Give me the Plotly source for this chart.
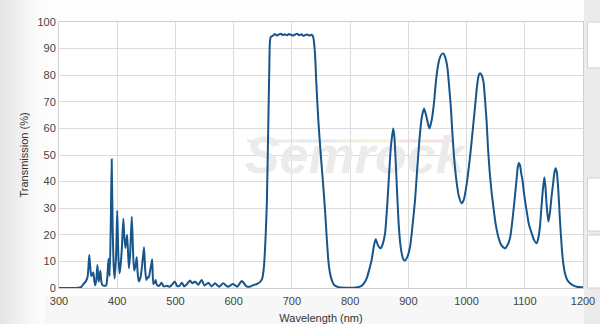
import plotly.graph_objects as go

# Wavelength (nm) and transmission (%)
wavelength = [300, 330, 338, 342, 346, 349, 352, 354, 355.5, 357, 359, 360.5, 362, 364, 366, 368, 369.5,
              371, 373, 375, 378, 381, 383, 385, 387, 389, 390.5, 392, 394, 395.6, 398, 400, 402, 404,
              406, 408, 410.5, 412, 414, 417, 420, 422, 425, 427, 429, 431, 433.5, 435, 437, 440, 443,
              446, 448, 450, 452, 454, 457, 460, 462, 464, 466, 468, 472, 476, 480, 485, 490, 494, 499,
              503, 507, 511, 515, 520, 525, 529, 534, 539, 545, 550, 556.5, 562, 568, 575, 582, 590,
              599, 606, 614, 622, 628, 634, 640, 645, 649, 652, 655, 657, 659.6, 661, 662.4, 664,
              667, 670.5, 674, 677.5, 681, 684.5, 688, 691.5, 695, 698.5, 702, 705.5, 709, 712.5, 716,
              719.5, 723, 726.5, 730, 733, 735, 737, 739.7, 742, 745.4, 750, 754, 757, 759.8, 762,
              763.8, 766, 769.5, 773, 780, 790, 800, 810, 817, 823, 828.5, 833, 837, 841, 844, 848,
              852.5, 856, 860, 864, 867, 870, 874, 876, 878, 880.5, 883, 886, 888.6, 891, 894, 898,
              903, 907, 911.5, 915, 919, 923, 927, 931, 936, 940, 944, 948, 953, 956, 960, 963, 967,
              970, 973, 976, 980, 984, 987, 991.7, 995, 998.6, 1002, 1006, 1010, 1014.5, 1018, 1021,
              1023, 1026, 1029, 1032, 1034.6, 1037, 1040, 1043, 1046, 1050, 1054.5, 1060, 1066, 1070,
              1074.6, 1078, 1081, 1083, 1086, 1088, 1090, 1092, 1094, 1096, 1099, 1103, 1107, 1112,
              1116, 1120.5, 1123, 1126, 1128.5, 1131, 1133.6, 1135.5, 1137.7, 1140.5, 1143, 1146, 1149,
              1151, 1153, 1155, 1157.6, 1160, 1163.4, 1166, 1169, 1173, 1177.7, 1183, 1189, 1200]

transmission = [0, 0, 0.3, 1.5, 2.5, 4, 12.4, 7, 4.5, 5, 5.8, 3, 1, 3, 8.6, 2.4, 4,
                6.5, 2, 1, 0.8, 1, 4, 11, 4.5, 25, 48.4, 25, 8, 3.6, 12, 29, 12, 5.5,
                9, 15, 26, 20, 15, 20, 7.4, 12, 26.8, 15, 6.6, 8, 11.6, 6, 2.5, 4, 9,
                15.3, 7, 3, 4, 4, 7, 10.8, 1.5, 2, 3, 1.2, 0.8, 2.0, 0.6, 0.8, 0.5, 1.2, 2.4,
                0.7, 0.8, 2.0, 0.6, 1.5, 2.8, 1.8, 2.4, 1.2, 3.0, 0.9, 2.0, 0.6, 1.75, 0.5, 1.75, 0.5,
                1.5, 0.5, 2.6, 0.6, 0.5, 1.1, 1.5, 2.2, 3.5, 8, 20, 32, 63, 80, 93, 94.5,
                94.8, 95.5, 94.9, 95.3, 95.6, 95.1, 95.4, 95.0, 95.5, 95.2, 94.9, 95.3, 95.6, 95.0, 95.4,
                94.8, 95.1, 95.3, 94.9, 95.2, 95.0, 94, 88, 77, 63, 49, 38, 29, 19, 12,
                8, 5, 2.4, 1, 0.3, 0.1, 0.1, 0.2, 0.5, 1.5, 3.6, 7, 10.5, 16, 18.3, 16,
                14.9, 16.5, 20.5, 32, 43, 53, 60, 57, 49, 37, 25.6, 17, 13, 11, 10.3, 11.5,
                15.5, 23, 33, 44, 55.6, 64, 67.5, 64.5, 60, 63, 69.4, 79, 85.7, 87.5, 88.2, 87, 83,
                76, 68, 57, 45.6, 38, 34.3, 31.8, 33, 36.8, 42, 49.4, 58, 68, 76, 80,
                80.7, 80, 77.6, 70, 62, 52, 43, 36, 30.6, 24, 19.3, 16, 14.9, 16,
                18.7, 24, 30, 34.3, 41, 45.5, 47, 46, 43, 40.6, 35, 29.3, 24, 20.5,
                18, 16.8, 18.5, 23, 30, 36.8, 41.6, 38, 30.6, 25, 28, 34.3, 40,
                43.5, 45, 43.5, 36.8, 27, 15.5, 9.5, 5.5, 3, 1.8, 1, 0.5, 0.3]

x_ticks = [300, 400, 500, 600, 700, 800, 900, 1000, 1100, 1200]
y_ticks = [0, 10, 20, 30, 40, 50, 60, 70, 80, 90, 100]

W, H = 600, 324
L, R, T, B = 59, 17, 22, 36
PW, PH = W - L - R, H - T - B


def px(xp):
    return (xp - L) / PW


def py(yp):
    return (H - B - yp) / PH


shapes = []
# left-edge background gradient
grad = ["#e6e6e6", "#e9e9e9", "#ececec", "#efefef", "#f2f2f2", "#f5f5f5", "#f8f8f8", "#fafafa", "#fcfcfc"]
for i, c in enumerate(grad):
    shapes.append(dict(type="rect", xref="paper", yref="paper", x0=px(i * 5), x1=px(i * 5 + 5),
                       y0=py(H), y1=py(0), fillcolor=c, line_width=0, layer="below"))
# bottom strip
shapes.append(dict(type="rect", xref="paper", yref="paper", x0=px(45), x1=px(W), y0=py(H), y1=py(296),
                   fillcolor="#f7f7f7", line_width=0, layer="below"))
# right panel
shapes.append(dict(type="rect", xref="paper", yref="paper", x0=px(584), x1=px(W), y0=py(H), y1=py(0),
                   fillcolor="#ebebeb", line_width=0, layer="below"))
for (y0, y1) in [(22, 68), (178, 231), (235, 288)]:
    shapes.append(dict(type="rect", xref="paper", yref="paper", x0=px(587.5), x1=px(W + 3),
                       y0=py(y1), y1=py(y0), fillcolor="white", line=dict(color="#d0d0d0", width=1),
                       layer="below"))
# rainbow stripe of the watermark
stripe = [(247, 300, "#ececec"), (300, 335, "#e3e8f6"), (335, 365, "#e6f3e3"),
          (365, 400, "#f5f2da"), (400, 452, "#f5e1e1")]
for (a, b, c) in stripe:
    shapes.append(dict(type="line", xref="paper", yref="paper", x0=px(a), x1=px(b),
                       y0=py(141), y1=py(141), line=dict(color=c, width=3), layer="below"))

fig = go.Figure()
# watermark (drawn beneath the curve)
fig.add_trace(go.Scatter(x=[808], y=[48], mode="text", text=["Semrock"], hoverinfo="skip",
                         textfont=dict(family="Liberation Sans", size=52, color="#ebebeb",
                                       weight="bold", style="italic"),
                         showlegend=False, cliponaxis=False))
fig.add_trace(go.Scatter(x=wavelength, y=transmission, mode="lines",
                         line=dict(color="#17558b", width=2, shape="spline", smoothing=0.6),
                         showlegend=False))

axis_font = dict(family="Liberation Sans", size=11, color="#444444")
fig.update_layout(
    width=W, height=H,
    margin=dict(l=L, r=R, t=T, b=B, pad=0),
    paper_bgcolor="#fdfdfd", plot_bgcolor="white",
    shapes=shapes,
    xaxis=dict(range=[300, 1200], tickvals=x_ticks, ticktext=[str(v) for v in x_ticks],
               showgrid=True, gridcolor="#dcdcdc", gridwidth=1, zeroline=False,
               showline=True, linecolor="#d0d0d0", mirror=True, ticks="",
               tickfont=axis_font, automargin=False, ticklabelstandoff=3,
               title=dict(text="Wavelength (nm)", font=dict(family="Liberation Sans", size=11, color="#333333"),
                          standoff=8)),
    yaxis=dict(range=[0, 100], tickvals=y_ticks, ticktext=[str(v) for v in y_ticks],
               showgrid=True, gridcolor="#dcdcdc", gridwidth=1, zeroline=False,
               showline=True, linecolor="#d0d0d0", mirror=True, ticks="",
               tickfont=axis_font, automargin=False,
               title=dict(text="Transmission (%)", font=dict(family="Liberation Sans", size=11, color="#333333"),
                          standoff=6)),
)

fig.write_html("out.html")
